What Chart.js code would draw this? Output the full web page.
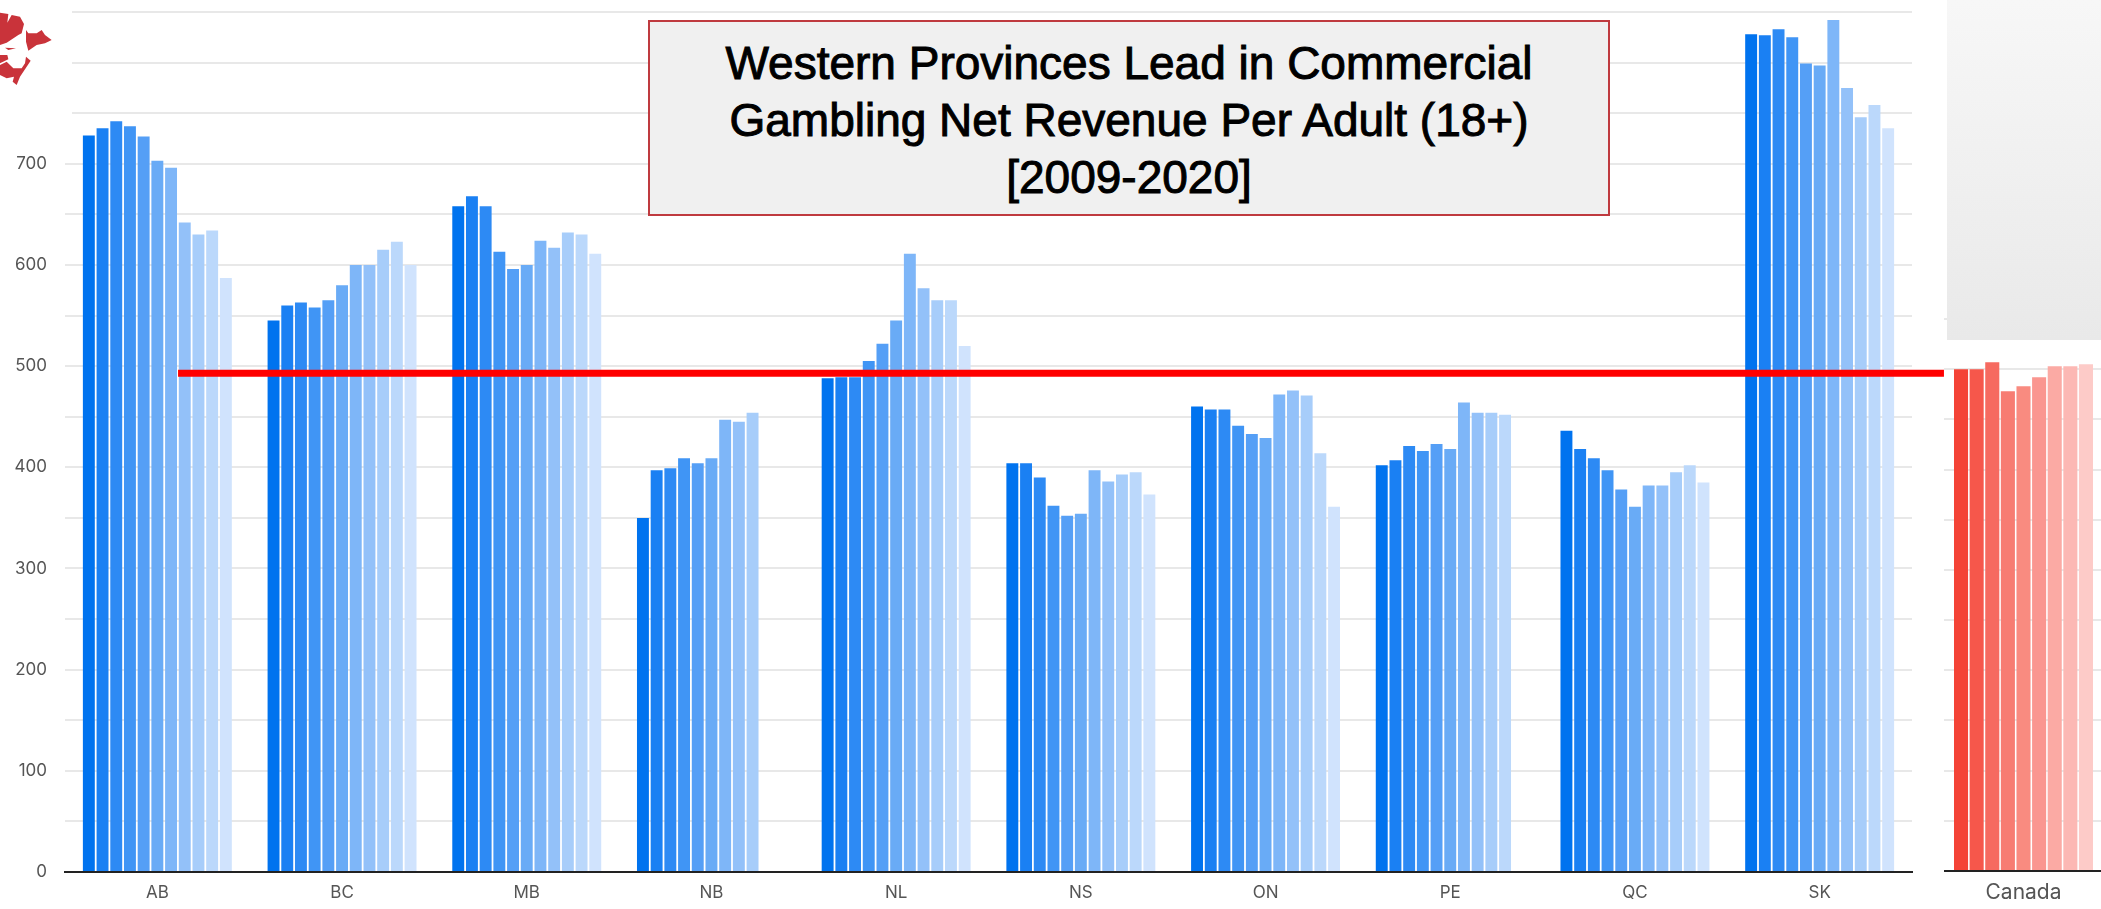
<!DOCTYPE html>
<html>
<head>
<meta charset="utf-8">
<script src="https://cdn.jsdelivr.net/npm/chart.js@4/dist/chart.umd.min.js"></script>
<style>
html,body{margin:0;padding:0;width:2101px;height:909px;overflow:hidden;background:#fff}
canvas{position:absolute;top:0}
#title{position:absolute;left:648px;top:20px;width:958px;height:192px;border:2px solid #bf3a3f;background:#f0f0f0;
 font-family:"Liberation Sans",Arial,sans-serif;font-size:46px;line-height:57px;text-align:center;color:#000;-webkit-text-stroke:1px #000;box-sizing:content-box}
#title div{white-space:nowrap}
#title .l1{margin-top:13px}
#grey{position:absolute;left:1947px;top:0;width:154px;height:340px;background:linear-gradient(#f7f7f7,#e9e9e9)}
#logoBg{position:absolute;left:0;top:0;width:72px;height:125px;background:#fff}
#logo{position:absolute;left:0;top:0;width:80px;height:100px}
</style>
</head>
<body>
<canvas id="mainChart" width="2101" height="909" style="left:0"></canvas>
<canvas id="canadaChart" width="159" height="909" style="left:1944px"></canvas>
<canvas id="averageChart" width="2101" height="909" style="left:0"></canvas>
<div id="grey"></div>
<div id="logoBg"></div>
<svg id="logo" viewBox="0 0 240 300" fill="#c9333a">
<polygon points="0,38 25,42 22,68 35,45 60,50 72,72 65,100 55,105 20,128 0,135"/>
<polygon points="78,90 85,100 110,100 125,90 135,105 155,120 135,130 110,135 85,152 78,125"/>
<polygon points="15,143 48,145 25,150"/>
<polygon points="0,165 22,165 25,178 0,190"/>
<polygon points="0,195 20,185 40,205 65,205 75,190 78,170 92,182 80,200 60,230 50,255 38,245 42,230 20,235 0,225"/>
</svg>
<div id="title"><div class="l1">Western Provinces Lead in Commercial</div><div>Gambling Net Revenue Per Adult (18+)</div><div>[2009-2020]</div></div>
<script>
const provinces = ["AB","BC","MB","NB","NL","NS","ON","PE","QC","SK"];
const AB = [728,735,742,737,727,703,696,642,630,634,587];
const BC = [545,560,563,558,565,580,600,600,615,623,600];
const MB = [658,668,658,613,596,600,624,617,632,630,611];
const NB = [350,397,399,409,404,409,447,445,454,null,null];
const NL = [488,489,489,505,522,545,611,577,565,565,520];
const NS = [404,404,390,362,352,354,397,386,393,395,373];
const ON = [460,457,457,441,433,429,472,476,471,414,361];
const PE = [402,407,421,416,423,418,464,454,454,452,null];
const QC = [436,418,409,397,378,361,382,382,395,402,385];
const SK = [828,827,833,825,799,797,842,775,746,758,735];
const provinceRows = [AB,BC,MB,NB,NL,NS,ON,PE,QC,SK];
const blueShades = ["#0073ef","#1a80f3","#2d8af4","#4095f5","#559ff6","#69abf6","#7eb6f8","#93c1f9","#a7cdfa","#bbd8fb","#d0e3fd"];

const canadaLabel = ["Canada"];
const canadaValues = [500,500,507,478,483,492,503,503,505];
const redShades = ["#f44336","#f6574b","#f66a60","#f77c72","#f98b80","#fa9690","#fbaaa4","#fcb8b4","#fdcbc8"];

const averageValue = 493;
const averageSpan = [0.112, 9.673];

const yMax = 850, yStep = 50, yLabelMax = 700;
const tickFont = {family:"Inter, 'Open Sans', sans-serif", size:17};

new Chart(document.getElementById("mainChart"),{
  type:"bar",
  data:{labels:provinces,datasets:blueShades.map((c,i)=>({
    label:"s"+i, data:provinceRows.map(r=>r[i]),
    backgroundColor:c, categoryPercentage:0.816, barPercentage:0.87
  }))},
  options:{
    responsive:false,animation:false,
    layout:{padding:{top:12,right:189,left:0,bottom:0}},
    plugins:{legend:{display:false},tooltip:{enabled:false},title:{display:false}},
    scales:{
      x:{type:"category",grid:{display:false,drawTicks:false},
         border:{color:"#222",width:2},
         ticks:{color:"#555",font:tickFont,padding:11,maxRotation:0},
         afterFit(s){s.height=37;}},
      y:{min:0,max:yMax,
         grid:{color:"#e8e8e8",lineWidth:2,drawTicks:false},
         border:{display:false},
         ticks:{stepSize:yStep,color:"#555",font:tickFont,padding:18,
                callback:v=>(v%100===0&&v<=yLabelMax)?String(v):""},
         afterFit(s){s.width=65;s.paddingTop=0;s.paddingBottom=0;}}
    }
  }
});

new Chart(document.getElementById("canadaChart"),{
  type:"bar",
  data:{labels:canadaLabel,datasets:redShades.map((c,i)=>({
    label:"c"+i,data:[canadaValues[i]],backgroundColor:c,categoryPercentage:0.884,barPercentage:0.9
  }))},
  options:{
    responsive:false,animation:false,
    layout:{padding:{top:319,right:0,left:0,bottom:0}},
    plugins:{legend:{display:false},tooltip:{enabled:false}},
    scales:{
      x:{grid:{display:false,drawTicks:false},border:{color:"#222",width:2},
         ticks:{color:"#555",font:{family:tickFont.family,size:21},padding:9,maxRotation:0},
         afterFit(s){s.height=38;}},
      y:{min:0,max:550,display:true,
         grid:{color:"#e8e8e8",lineWidth:2,drawTicks:false},border:{display:false},
         ticks:{stepSize:50,display:false},afterFit(s){s.width=0;s.paddingTop=0;s.paddingBottom=0;}}
    }
  }
});

new Chart(document.getElementById("averageChart"),{
  type:"line",
  data:{datasets:[{
    label:"Canada average",
    data:averageSpan.map(x=>({x:x,y:averageValue})),
    borderColor:"#ff0000",borderWidth:7,pointRadius:0,clip:false,tension:0
  }]},
  options:{
    responsive:false,animation:false,
    layout:{padding:{top:12,right:189,left:65,bottom:37}},
    plugins:{legend:{display:false},tooltip:{enabled:false}},
    scales:{
      x:{type:"linear",display:false,min:-0.5,max:9.5},
      y:{display:false,min:0,max:yMax}
    }
  }
});
</script>
</body>
</html>
